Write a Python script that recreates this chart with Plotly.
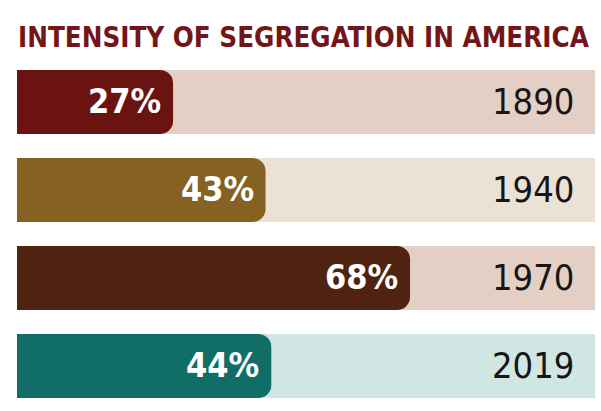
import plotly.graph_objects as go

years = ["1890", "1940", "1970", "2019"]
values = [27, 43, 68, 44]
bar_colors = ["#6b1311", "#856122", "#4f2310", "#116e66"]
bg_colors = ["#e3cfc4", "#ebe2d5", "#e3cfc4", "#cfe6e3"]
full = [100, 100, 100, 100]
title = "INTENSITY OF SEGREGATION IN AMERICA"

FONT = "DejaVu Sans Condensed, sans-serif"
H, T, B = 411, 58, 1
plot_h = H - T - B

fig = go.Figure()
fig.add_trace(go.Bar(y=years, x=full, orientation="h", marker=dict(color=bg_colors, line=dict(width=0)),
                     hoverinfo="skip", showlegend=False, xaxis="x", yaxis="y"))
fig.add_trace(go.Bar(y=years, x=values, orientation="h",
                     marker=dict(color=bar_colors, line=dict(width=0), cornerradius=13),
                     showlegend=False, xaxis="x2", yaxis="y2"))

for i, (y, v) in enumerate(zip(years, values)):
    fig.add_annotation(x=v, y=i, xref="x", yref="y", text=f"<b>{v}%</b>", showarrow=False,
                       xanchor="right", xshift=-10, yshift=1,
                       font=dict(family=FONT, size=34, color="white"))
    fig.add_annotation(x=100, y=i, xref="x", yref="y", text=y, showarrow=False,
                       xanchor="right", xshift=-19, yshift=1,
                       font=dict(family=FONT, size=36, color="#161616"))

fig.add_annotation(x=0, y=1 + (T - 37) / plot_h, xref="paper", yref="paper", text=f"<b>{title}</b>",
                   showarrow=False, xanchor="left", yanchor="middle", xshift=-1,
                   font=dict(family=FONT, size=27.5, color="#731619"))

fig.update_layout(
    width=601, height=H,
    margin=dict(l=17, r=6, t=T, b=B),
    barmode="overlay", bargap=0.273,
    paper_bgcolor="white", plot_bgcolor="white",
    xaxis=dict(range=[0, 100], visible=False, fixedrange=True),
    yaxis=dict(type="category", range=[3.5, -0.5], visible=False, fixedrange=True),
    xaxis2=dict(range=[0, 100], visible=False, fixedrange=True, overlaying="x"),
    yaxis2=dict(type="category", range=[3.5, -0.5], visible=False, fixedrange=True, overlaying="y"),
)
fig.write_html("out.html")
